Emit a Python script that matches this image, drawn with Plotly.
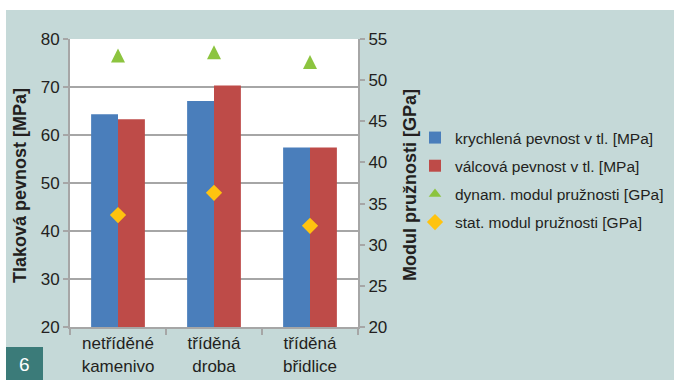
import plotly.graph_objects as go

# Categories and measured values
categories = ["netříděné<br>kamenivo", "tříděná<br>droba", "tříděná<br>břidlice"]
cube_strength = [64.3, 67.1, 57.4]        # krychlená pevnost v tl. [MPa]
cylinder_strength = [63.3, 70.3, 57.4]    # válcová pevnost v tl. [MPa]
dynamic_modulus = [53.0, 53.4, 52.2]      # dynam. modul pružnosti [GPa]
static_modulus = [33.6, 36.3, 32.3]       # stat. modul pružnosti [GPa]

left_ticks = [20, 30, 40, 50, 60, 70, 80]
right_ticks = [20, 25, 30, 35, 40, 45, 50, 55]

W, H = 674, 380
L, R, T, B = 70, 316, 39, 53
PW, PH = W - L - R, H - T - B

def px(x):
    return (x - L) / PW

def py(y):
    return (H - B - y) / PH

FONT = "Liberation Sans, Arial, sans-serif"
TXT = "#231f20"
GRID = "#a6a6a6"
BG = "#c5d9d8"
GREEN = "#8cc43f"
GOLD = "#ffc30f"

fig = go.Figure()
fig.add_bar(x=categories, y=cube_strength, name="krychlená pevnost v tl. [MPa]",
            marker=dict(color="#4a7ebb", line=dict(width=0)), legendgroup="a")
fig.add_bar(x=categories, y=cylinder_strength, name="válcová pevnost v tl. [MPa]",
            marker=dict(color="#be4b48", line=dict(width=0)), legendgroup="b")
# centred upright triangles: a down-arrow turned over and pushed back by half its height
fig.add_scatter(x=categories, y=dynamic_modulus, name="dynam. modul pružnosti [GPa]",
                mode="markers", yaxis="y2", legendgroup="c", showlegend=False,
                marker=dict(symbol="arrow-down", angle=180, standoff=7, size=14,
                            color=GREEN, line=dict(width=0)))
# legend key for the triangles
fig.add_scatter(x=[None], y=[None], name="dynam. modul pružnosti [GPa]",
                mode="markers", yaxis="y2", legendgroup="c",
                marker=dict(symbol="triangle-up", size=11, color=GREEN, line=dict(width=0)))
fig.add_scatter(x=categories, y=static_modulus, name="stat. modul pružnosti [GPa]",
                mode="markers", yaxis="y2", legendgroup="d",
                marker=dict(symbol="diamond", size=12.5, color=GOLD, line=dict(width=0)))

axis_common = dict(showline=True, linecolor=GRID, linewidth=2, ticks="outside",
                   tickcolor=GRID, tickwidth=1.5, ticklen=5, automargin=False,
                   tickfont=dict(family=FONT, size=17, color=TXT))

fig.update_layout(
    width=W, height=H,
    margin=dict(l=L, r=R, t=T, b=B, pad=0, autoexpand=False),
    paper_bgcolor=BG, plot_bgcolor="white",
    barmode="group", bargap=0.44, bargroupgap=0,
    font=dict(family=FONT, color=TXT),
    xaxis=dict(type="category", tickson="boundaries", showgrid=False,
               **{**axis_common, "ticklen": 6}),
    yaxis=dict(range=[20, 80], tickvals=left_ticks, showgrid=True, gridcolor=GRID,
               gridwidth=1.5, zeroline=False, **axis_common),
    yaxis2=dict(range=[20, 55], tickvals=right_ticks, overlaying="y", side="right",
                showgrid=False, zeroline=False, **axis_common),
    legend=dict(xref="container", yref="container", x=415 / W, y=1 - 121 / H,
                xanchor="left", yanchor="top", traceorder="grouped",
                bgcolor="rgba(0,0,0,0)", tracegroupgap=5,
                font=dict(family=FONT, size=15.5, color=TXT)),
    showlegend=True,
)

shapes = [
    # white strips around the coloured panel
    dict(type="rect", xref="paper", yref="paper", x0=px(0), x1=px(W), y0=py(10), y1=py(0),
         fillcolor="white", line=dict(width=0), layer="below"),
    dict(type="rect", xref="paper", yref="paper", x0=px(0), x1=px(6), y0=py(H), y1=py(0),
         fillcolor="white", line=dict(width=0), layer="below"),
    # figure number box
    dict(type="rect", xref="paper", yref="paper", x0=px(6), x1=px(43), y0=py(H), y1=py(347),
         fillcolor="#3b7b79", line=dict(width=0), layer="below"),
]
fig.update_layout(shapes=shapes)

fig.add_annotation(text="<b>Tlaková pevnost [MPa]</b>", xref="paper", yref="paper",
                   x=px(20), y=py(186), textangle=-90, showarrow=False,
                   xanchor="center", yanchor="middle",
                   font=dict(family=FONT, size=18, color=TXT))
fig.add_annotation(text="<b>Modul pružnosti [GPa]</b>", xref="paper", yref="paper",
                   x=px(410), y=py(185), textangle=-90, showarrow=False,
                   xanchor="center", yanchor="middle",
                   font=dict(family=FONT, size=18, color=TXT))
fig.add_annotation(text="6", xref="paper", yref="paper", x=px(24.5), y=py(364),
                   showarrow=False, xanchor="center", yanchor="middle",
                   font=dict(family=FONT, size=19, color="white"))

fig.write_html("out.html")
